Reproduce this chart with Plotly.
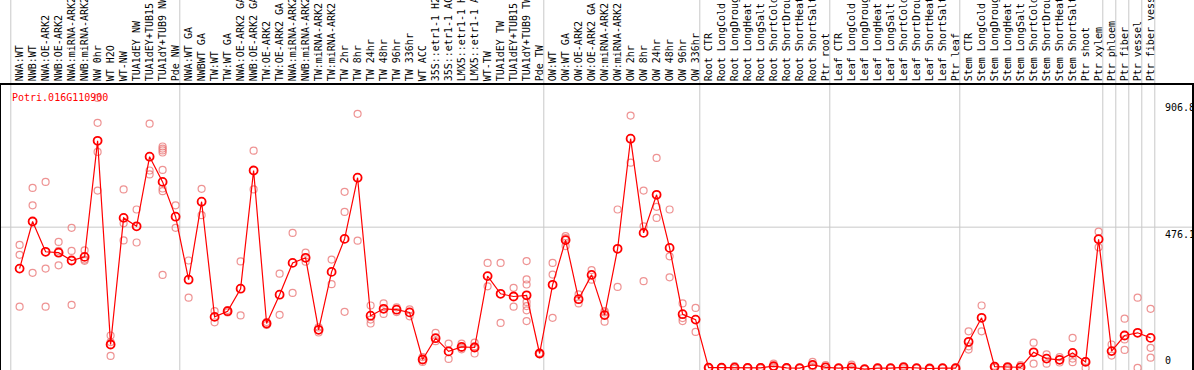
import plotly.graph_objects as go

gene_id = "Potri.016G110900"

labels = [
    "NWA:WT", "NWB:WT", "NWA:OE-ARK2", "NWB:OE-ARK2", "NWA:miRNA-ARK2", "NWB:miRNA-ARK2",
    "NW 0hr", "WT H2O", "WT-NW", "TUA1dEY NW", "TUA1dEY+TUB15 NW", "TUA1dY+TUB9 NW", "Pde NW",
    "NWA:WT GA", "NWBWT GA", "TW:WT", "TW:WT GA", "NWA:OE-ARK2 GA", "NWB:OE-ARK2 GA",
    "TW:OE-ARK2", "TW:OE-ARK2 GA", "NWA:miRNA-ARK2", "NWB:miRNA-ARK2", "TW:miRNA-ARK2",
    "TW:miRNA-ARK2", "TW 2hr", "TW 8hr", "TW 24hr", "TW 48hr", "TW 96hr", "TW 336hr", "WT ACC",
    "35S::etr1-1 H2O", "35S::etr1-1 ACC", "LMX5::etr1-1 H2O", "LMX5::etr1-1 ACC", "WT-TW",
    "TUA1dEY TW", "TUA1dEY+TUB15 TW", "TUA1dY+TUB9 TW", "Pde TW",
    "OW:WT", "OW:WT GA", "OW:OE-ARK2", "OW:OE-ARK2 GA", "OW:miRNA-ARK2", "OW:miRNA-ARK2",
    "OW 2hr", "OW 8hr", "OW 24hr", "OW 48hr", "OW 96hr", "OW 336hr",
    "Root CTR", "Root LongCold", "Root LongDrought", "Root LongHeat", "Root LongSalt",
    "Root ShortCold", "Root ShortDrought", "Root ShortHeat", "Root ShortSalt", "Ptr root",
    "Leaf CTR", "Leaf LongCold", "Leaf LongDrought", "Leaf LongHeat", "Leaf LongSalt",
    "Leaf ShortCold", "Leaf ShortDrought", "Leaf ShortHeat", "Leaf ShortSalt", "Ptr leaf",
    "Stem CTR", "Stem LongCold", "Stem LongDrought", "Stem LongHeat", "Stem LongSalt",
    "Stem ShortCold", "Stem ShortDrought", "Stem ShortHeat", "Stem ShortSalt", "Ptr shoot",
    "Ptr xylem", "Ptr phloem", "Ptr fiber", "Ptr vessel", "Ptr fiber vessel",
]

group_sizes = [13, 28, 12, 10, 10, 11, 1, 1, 1, 1]

means = [
    338, 495, 394, 391, 365, 377, 764, 85, 507, 479, 711, 627, 511,
    301, 561, 177, 196, 271, 665, 155, 251, 357, 374, 134, 327, 437, 641, 181, 204, 201,
    192, 35, 106, 62, 77, 75, 313, 254, 245, 249, 55,
    284, 433, 236, 317, 183, 404, 771, 457, 584, 407, 186, 168,
    8, 8, 8, 7, 7, 13, 7, 6, 17, 9,
    6, 9, 3, 6, 6, 9, 6, 5, 6, 6,
    94, 174, 11, 9, 9, 59, 38, 34, 57, 27, 436,
    63, 115, 124, 107,
]

replicates = [
    [417, 384, 211], [607, 549, 324], [627, 338, 211], [427, 349, 397], [474, 397, 217],
    [399, 368, 364], [906.8, 824, 727, 598], [115, 47, 93], [602, 489, 432], [535, 425],
    [821, 665, 652], [745, 738, 732, 725, 667, 605, 596, 317], [549, 474],
    [365, 241], [604, 516], [196, 159], [200, 192], [362, 182], [731, 602], [160, 150],
    [321, 184], [457, 257], [391, 361], [142, 125], [368, 286], [594, 527, 194], [854, 431],
    [215, 168, 155], [222, 187], [209, 193], [202, 179], [27, 43], [124, 96], [88, 37],
    [88, 74, 69], [91, 55, 79], [357, 279], [357, 157], [274, 211],
    [363, 302, 285, 227, 213, 199, 163], [57, 53],
    [357, 318, 174], [446, 413, 440], [252, 222], [333, 301], [196, 161, 192], [535, 277],
    [848, 691], [598, 479, 296], [707, 544, 507], [535, 379, 309], [222, 163, 173], [207, 127],
    [10, 6], [9, 7], [13, 4], [9, 6], [10, 5], [21, 8, 11], [9, 5], [7, 5], [27, 10, 15], [16, 3],
    [7, 5], [18, 2], [4, 2], [8, 4], [7, 5], [13, 5], [7, 5], [6, 4], [7, 5], [8, 4],
    [129, 79, 68], [215, 129], [14, 8], [13, 5], [16, 2], [91, 21], [52, 21], [43, 25],
    [107, 26, 38], [7, 30], [461, 409],
    [85, 48], [171, 102, 67], [241, 7], [204, 74, 41],
]

y_tick_values = [906.8, 476.1, 0]
y_tick_labels = ["906.8", "476.1", "0"]

# ---- layout geometry (pixels) ----
W, H = 1194, 370
ML, MR, MT, MB = 1, 2, 85, 0
SLOT = 13.0
FIRST_CENTER = 19.6
plot_w = W - ML - MR
plot_h = H - MT - MB
x_range = [(ML - FIRST_CENTER) / SLOT, (ML + plot_w - FIRST_CENTER) / SLOT]
y_range = [0, plot_h / 0.3]

x_idx = list(range(len(labels)))
rep_x, rep_y = [], []
for i, reps in enumerate(replicates):
    for v in reps:
        rep_x.append(i)
        rep_y.append(v)

FONT = "DejaVu Sans Mono"

fig = go.Figure()
fig.add_trace(go.Scatter(
    x=rep_x, y=rep_y, mode="markers", cliponaxis=False, hoverinfo="skip",
    marker=dict(symbol="circle-open", size=7, color="rgba(234,120,120,0.8)",
                line=dict(width=1.2, color="rgba(234,120,120,0.8)")),
))
fig.add_trace(go.Scatter(
    x=x_idx, y=means, mode="lines+markers", cliponaxis=False,
    line=dict(color="#ff0000", width=1.2),
    marker=dict(symbol="circle-open", size=8, color="#ff0000",
                line=dict(width=1.8, color="#ff0000")),
))

shapes = []
b = 0
bounds = [0]
for g in group_sizes:
    b += g
    bounds.append(b)
for k in bounds:
    xb = k - (FIRST_CENTER - 10.8) / SLOT
    shapes.append(dict(type="line", xref="x", yref="paper", x0=xb, x1=xb,
                       y0=0, y1=1 + MT / plot_h, layer="below",
                       line=dict(color="#c8c8c8", width=1)))
shapes.append(dict(type="line", xref="paper", yref="y", x0=0, x1=1,
                   y0=y_tick_values[1], y1=y_tick_values[1], layer="below",
                   line=dict(color="#c8c8c8", width=1)))

lab_x = (1163 - ML) / plot_w
annotations = [
    dict(text=gene_id, xref="paper", yref="paper", x=(9.5 - ML) / plot_w,
         y=(H - 97) / plot_h, xanchor="left", yanchor="middle", showarrow=False,
         font=dict(family=FONT, size=10, color="#ff0000")),
    dict(text=y_tick_labels[0], xref="paper", yref="y", x=lab_x, y=y_tick_values[0],
         xanchor="left", yanchor="top", yshift=-2, showarrow=False,
         font=dict(family=FONT, size=10, color="black")),
    dict(text=y_tick_labels[1], xref="paper", yref="y", x=lab_x, y=y_tick_values[1],
         xanchor="left", yanchor="top", yshift=0, showarrow=False,
         font=dict(family=FONT, size=10, color="black")),
    dict(text=y_tick_labels[2], xref="paper", yref="y", x=lab_x, y=y_tick_values[2],
         xanchor="left", yanchor="bottom", yshift=2, showarrow=False,
         font=dict(family=FONT, size=10, color="black")),
]

fig.update_layout(
    width=W, height=H, margin=dict(l=ML, r=MR, t=MT, b=MB, pad=0),
    paper_bgcolor="white", plot_bgcolor="white", showlegend=False,
    hovermode=False, shapes=shapes, annotations=annotations,
    xaxis=dict(range=x_range, side="top", tickmode="array", tickvals=x_idx,
               ticktext=labels, tickangle=-90, ticks="", showgrid=False,
               zeroline=False, showline=True, linecolor="black", linewidth=1.5,
               mirror=True, automargin=False,
               tickfont=dict(family=FONT, size=10, color="black")),
    yaxis=dict(range=y_range, showticklabels=False, ticks="", showgrid=False,
               zeroline=False, showline=True, linecolor="black", linewidth=1.5,
               mirror=True, automargin=False),
)

fig.write_html(
    "out.html",
    config={"displayModeBar": False},
    post_script="document.body.style.margin='0';document.body.style.overflow='hidden';",
)
